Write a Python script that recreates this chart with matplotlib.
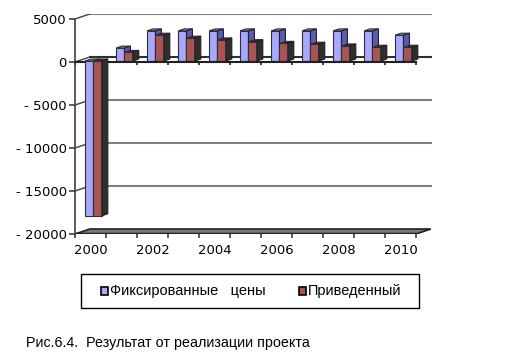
import matplotlib.pyplot as plt
from matplotlib.patches import Polygon, Rectangle

years = list(range(2000, 2011))
fixed_prices = [-18000, 1500, 3500, 3500, 3500, 3500, 3500, 3500, 3500, 3500, 3000]
discounted = [-18000, 1000, 3000, 2650, 2450, 2250, 2050, 1950, 1750, 1600, 1600]
y_ticks = [-20000, -15000, -10000, -5000, 0, 5000]
series_names = ['Фиксированные  цены', 'Приведенный']
caption = 'Рис.6.4.  Результат от реализации проекта'

# colours: front, top, side of each series
blue = ('#a8a8ff', '#8c8cc8', '#5a5ab4')
red = ('#a85454', '#660066', '#2e2e2e')

# oblique excel-like 3d: full depth shift of the floor in data units
DX = 0.48
DY = 580
BAR_W = 0.27
BAR_D0, BAR_D1 = 0.2, 0.6

W, H = 522, 361
fig = plt.figure(figsize=(W / 100, H / 100), dpi=100)
ax = fig.add_axes([75 / W, 1 - 234 / H, 356.5 / W, 220 / H])
ax.set_xlim(-0.5, 11.0)
ax.set_ylim(-20000, 5000 + DY)

for s in ['top', 'right', 'bottom']:
    ax.spines[s].set_visible(False)
ax.spines['left'].set_bounds(-20000, 5000)
ax.spines['left'].set_color('#404040')
ax.spines['left'].set_linewidth(1.2)

ax.set_yticks(y_ticks)
ax.set_yticklabels([('- %d' % abs(v)) if v < 0 else str(v) for v in y_ticks],
                   fontsize=9.5, family='DejaVu Sans')
ax.tick_params(axis='y', length=4, width=1.2, color='#404040', pad=2)

n = len(years)
ax.set_xticks(range(0, n, 2))
ax.set_xticklabels([str(y) for y in years[::2]], fontsize=9.5, family='DejaVu Sans')
ax.set_xticks([i - 0.5 for i in range(n + 1)], minor=True)
ax.tick_params(axis='x', which='major', length=0, pad=7)
ax.tick_params(axis='x', which='minor', length=3, width=1.2, color='#404040')

# back wall gridlines and the slanted links to the front axis
for v in y_ticks[1:]:
    c = '#303030' if v == 0 else '#808080'
    ax.plot([-0.5 + DX, 11.0], [v + DY, v + DY], color=c, lw=1.5, zorder=1)
    ax.plot([-0.5, -0.5 + DX], [v, v + DY], color='#404040', lw=1.0, zorder=1)

# floor
floor = Polygon([(-0.5, -20000), (n - 0.5, -20000), (n - 0.5 + DX, -20000 + DY),
                 (-0.5 + DX, -20000 + DY)], closed=True, fc='#7a7a7a', ec='#202020', lw=1.2, zorder=2)
ax.add_patch(floor)
ax.plot([-0.5, n - 0.5], [-20000, -20000], color='#202020', lw=2.5, zorder=2, solid_capstyle='butt')

# front zero line with its ticks
ax.plot([-0.5, n - 0.5], [0, 0], color='#202020', lw=1.5, zorder=5)
ax.vlines([i - 0.5 for i in range(n + 1)], -380, 0, color='#202020', lw=1.2, zorder=5)

ddx = (BAR_D1 - BAR_D0) * DX
ddy = (BAR_D1 - BAR_D0) * DY
for s, (vals, cols) in enumerate([(fixed_prices, blue), (discounted, red)]):
    for i, v in enumerate(vals):
        z = (6 if v < 0 else 3) + s
        x0 = i - BAR_W + s * BAR_W + BAR_D0 * DX
        x1 = x0 + BAR_W
        yb = min(v, 0) + BAR_D0 * DY
        yt = max(v, 0) + BAR_D0 * DY
        ax.bar(x0, v, width=BAR_W, bottom=BAR_D0 * DY, align='edge', color=cols[0],
               edgecolor='#303030', lw=0.8, zorder=z)
        ax.add_patch(Polygon([(x0, yt), (x1, yt), (x1 + ddx, yt + ddy), (x0 + ddx, yt + ddy)],
                             closed=True, fc=cols[1], ec='#303030', lw=0.8, zorder=z))
        ax.add_patch(Polygon([(x1, yb), (x1, yt), (x1 + ddx, yt + ddy), (x1 + ddx, yb + ddy)],
                             closed=True, fc=cols[2], ec='#202020', lw=0.8, zorder=z))

# legend box drawn by hand to match the excel layout
fig.patches.append(Rectangle((81 / W, 1 - 308 / H), 338 / W, 34 / H, transform=fig.transFigure,
                             fill=False, ec='black', lw=1.0))
for name, cols, mx in [(series_names[0].replace('  ', '   '), blue, 101), (series_names[1], red, 299)]:
    fig.patches.append(Rectangle((mx / W, 1 - 295 / H), 7 / W, 8 / H, transform=fig.transFigure,
                                 fc=cols[0], ec='black', lw=1.2))
    fig.text((mx + 9) / W, 1 - 291 / H, name, va='center', ha='left',
             fontsize=10.5, family='Liberation Sans')

fig.text(26 / W, 1 - 343 / H, caption, va='center', ha='left', fontsize=10.3, family='Liberation Sans')

plt.savefig('out.png', dpi=100)
